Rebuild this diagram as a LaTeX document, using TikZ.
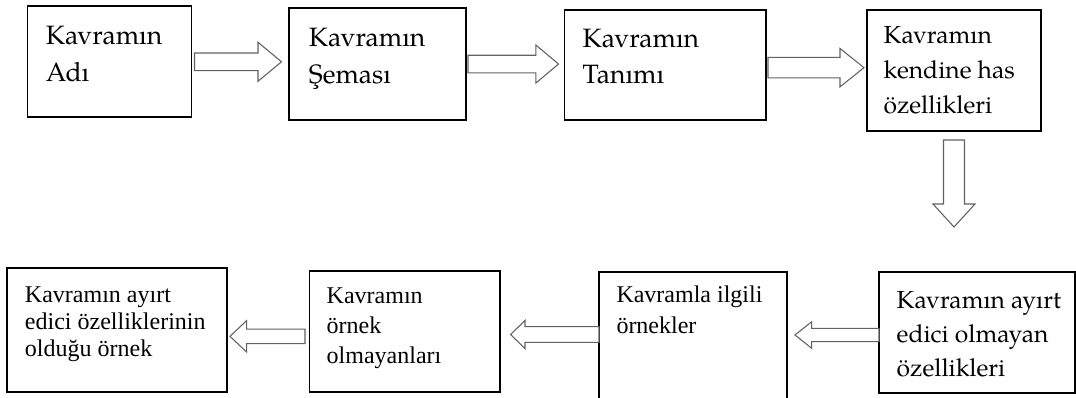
\documentclass[tikz,border=0pt]{standalone}
\usepackage{fontspec}
\setmainfont{Liberation Serif}
\newfontfamily\palfont{TeX Gyre Pagella}
\usetikzlibrary{calc,fit}
\newcommand\mytxt[2]{\vtop{\baselineskip=#1\lineskiplimit=-100pt\lineskip=0pt #2}}
\newcommand\arrR[5]{\draw[barrow] ($(#1)+(0,-#4)$) -- ($(#2)+(-#3,-#4)$) -- ($(#2)+(-#3,-#5)$) -- (#2) -- ($(#2)+(-#3,#5)$) -- ($(#2)+(-#3,#4)$) -- ($(#1)+(0,#4)$) -- cycle;}
\newcommand\arrL[5]{\draw[barrow] ($(#1)+(0,-#4)$) -- ($(#2)+(#3,-#4)$) -- ($(#2)+(#3,-#5)$) -- (#2) -- ($(#2)+(#3,#5)$) -- ($(#2)+(#3,#4)$) -- ($(#1)+(0,#4)$) -- cycle;}
\newcommand\arrD[5]{\draw[barrow] ($(#1)+(-#4,0)$) -- ($(#2)+(-#4,-#3)$) -- ($(#2)+(-#5,-#3)$) -- (#2) -- ($(#2)+(#5,-#3)$) -- ($(#2)+(#4,-#3)$) -- ($(#1)+(#4,0)$) -- cycle;}
\begin{document}
\begin{tikzpicture}[x=0.75pt,y=-0.75pt,
  box/.style={draw, line width=1.4pt, rectangle, inner sep=0pt, outer sep=0pt},
  lbl/.style={anchor=base west, inner sep=0pt, outer sep=0pt, text=black},
  palA/.style={font=\palfont\fontsize{19.9pt}{24pt}\selectfont},
  palB/.style={font=\palfont\fontsize{18.5pt}{22pt}\selectfont},
  tms/.style={font=\fontsize{18pt}{21pt}\selectfont},
  barrow/.style={draw=black!62, line width=0.8pt, fill=white, line join=miter}]
\clip (0,0) rectangle (1076,398);
\fill[white] (0,0) rectangle (1076,398);
% boxes
\node[box, fit={(27.5,6.2) (191.5,117.4)}] (b1) {};
\node[box, fit={(289,8.3) (466,119.8)}] (b2) {};
\node[box, fit={(564.5,9.6) (766,119.7)}] (b3) {};
\node[box, fit={(867,9.6) (1041,131)}] (b4) {};
\node[box, fit={(879,272) (1075,393)}] (b8) {};
\node[box, fit={(599,272) (787,420)}] (b7) {};
\node[box, fit={(309.5,271) (500,391.7)}] (b6) {};
\node[box, fit={(7.3,268.3) (226.7,391.7)}] (b5) {};
% texts
\node[lbl, palA] (t1) at ($(b1.north west)+(18.3,38.6)$) {\mytxt{27.6pt}{\hbox{Kavramın}\hbox{Adı}}};
\node[lbl, palA] (t2) at ($(b2.north west)+(19.9,38.2)$) {\mytxt{27.9pt}{\hbox{Kavramın}\hbox{Şeması}}};
\node[lbl, palA] (t3) at ($(b3.north west)+(18.2,38.3)$) {\mytxt{27pt}{\hbox{Kavramın}\hbox{Tanımı}}};
\node[lbl, palB] (t4) at ($(b4.north west)+(16.6,34.2)$) {\mytxt{26.1pt}{\hbox{Kavramın}\hbox{kendine has}\hbox{özellikleri}}};
\node[lbl, palB] (t8) at ($(b8.north west)+(17.7,37)$) {\mytxt{25.4pt}{\hbox{Kavramın ayırt}\hbox{edici olmayan}\hbox{özellikleri}}};
\node[lbl, tms] (t7) at ($(b7.north west)+(17.5,30.6)$) {\mytxt{23.2pt}{\hbox{Kavramla ilgili}\hbox{örnekler}}};
\node[lbl, tms] (t6) at ($(b6.north west)+(17.2,32.3)$) {\mytxt{22.5pt}{\hbox{Kavramın}\hbox{örnek}\hbox{olmayanları}}};
\node[lbl, tms] (t5) at ($(b5.north west)+(17.7,34.4)$) {\mytxt{20.2pt}{\hbox{Kavramın ayırt}\hbox{edici özelliklerinin}\hbox{olduğu örnek}}};
% connectors (block arrows)
\coordinate (s1) at ($(b1.east)+(3,0)$);
\coordinate (e1) at ($(b2.west |- s1)+(-7.5,0)$);
\arrR{s1}{e1}{23.5}{8.8}{19.5}
\coordinate (s2) at ($(b2.east)+(2,0)$);
\coordinate (e2) at ($(b3.west |- s2)+(-6,0)$);
\arrR{s2}{e2}{22.6}{8.8}{19}
\coordinate (s3) at ($(b3.east)+(2,3)$);
\coordinate (e3) at ($(b4.west |- s3)+(-3,0)$);
\arrR{s3}{e3}{24}{10.3}{19.2}
\coordinate (s4) at ($(b4.south)+(0,9)$);
\coordinate (e4) at ($(s4)+(0,87)$);
\arrD{s4}{e4}{23}{10.5}{21}
\coordinate (s5) at ($(b8.west)+(0,2.5)$);
\coordinate (e5) at ($(b7.east |- s5)+(8,0)$);
\arrL{s5}{e5}{16.7}{6.7}{13.3}
\coordinate (s6) at ($(b7.west)+(0,-11.5)$);
\coordinate (e6) at ($(b6.east |- s6)+(10.7,0)$);
\arrL{s6}{e6}{14.3}{7.8}{14.2}
\coordinate (s7) at ($(b6.west)+(-4.5,5)$);
\coordinate (e7) at ($(b5.east |- s7)+(3.3,0)$);
\arrL{s7}{e7}{16.7}{7.2}{15.8}
\end{tikzpicture}
\end{document}
